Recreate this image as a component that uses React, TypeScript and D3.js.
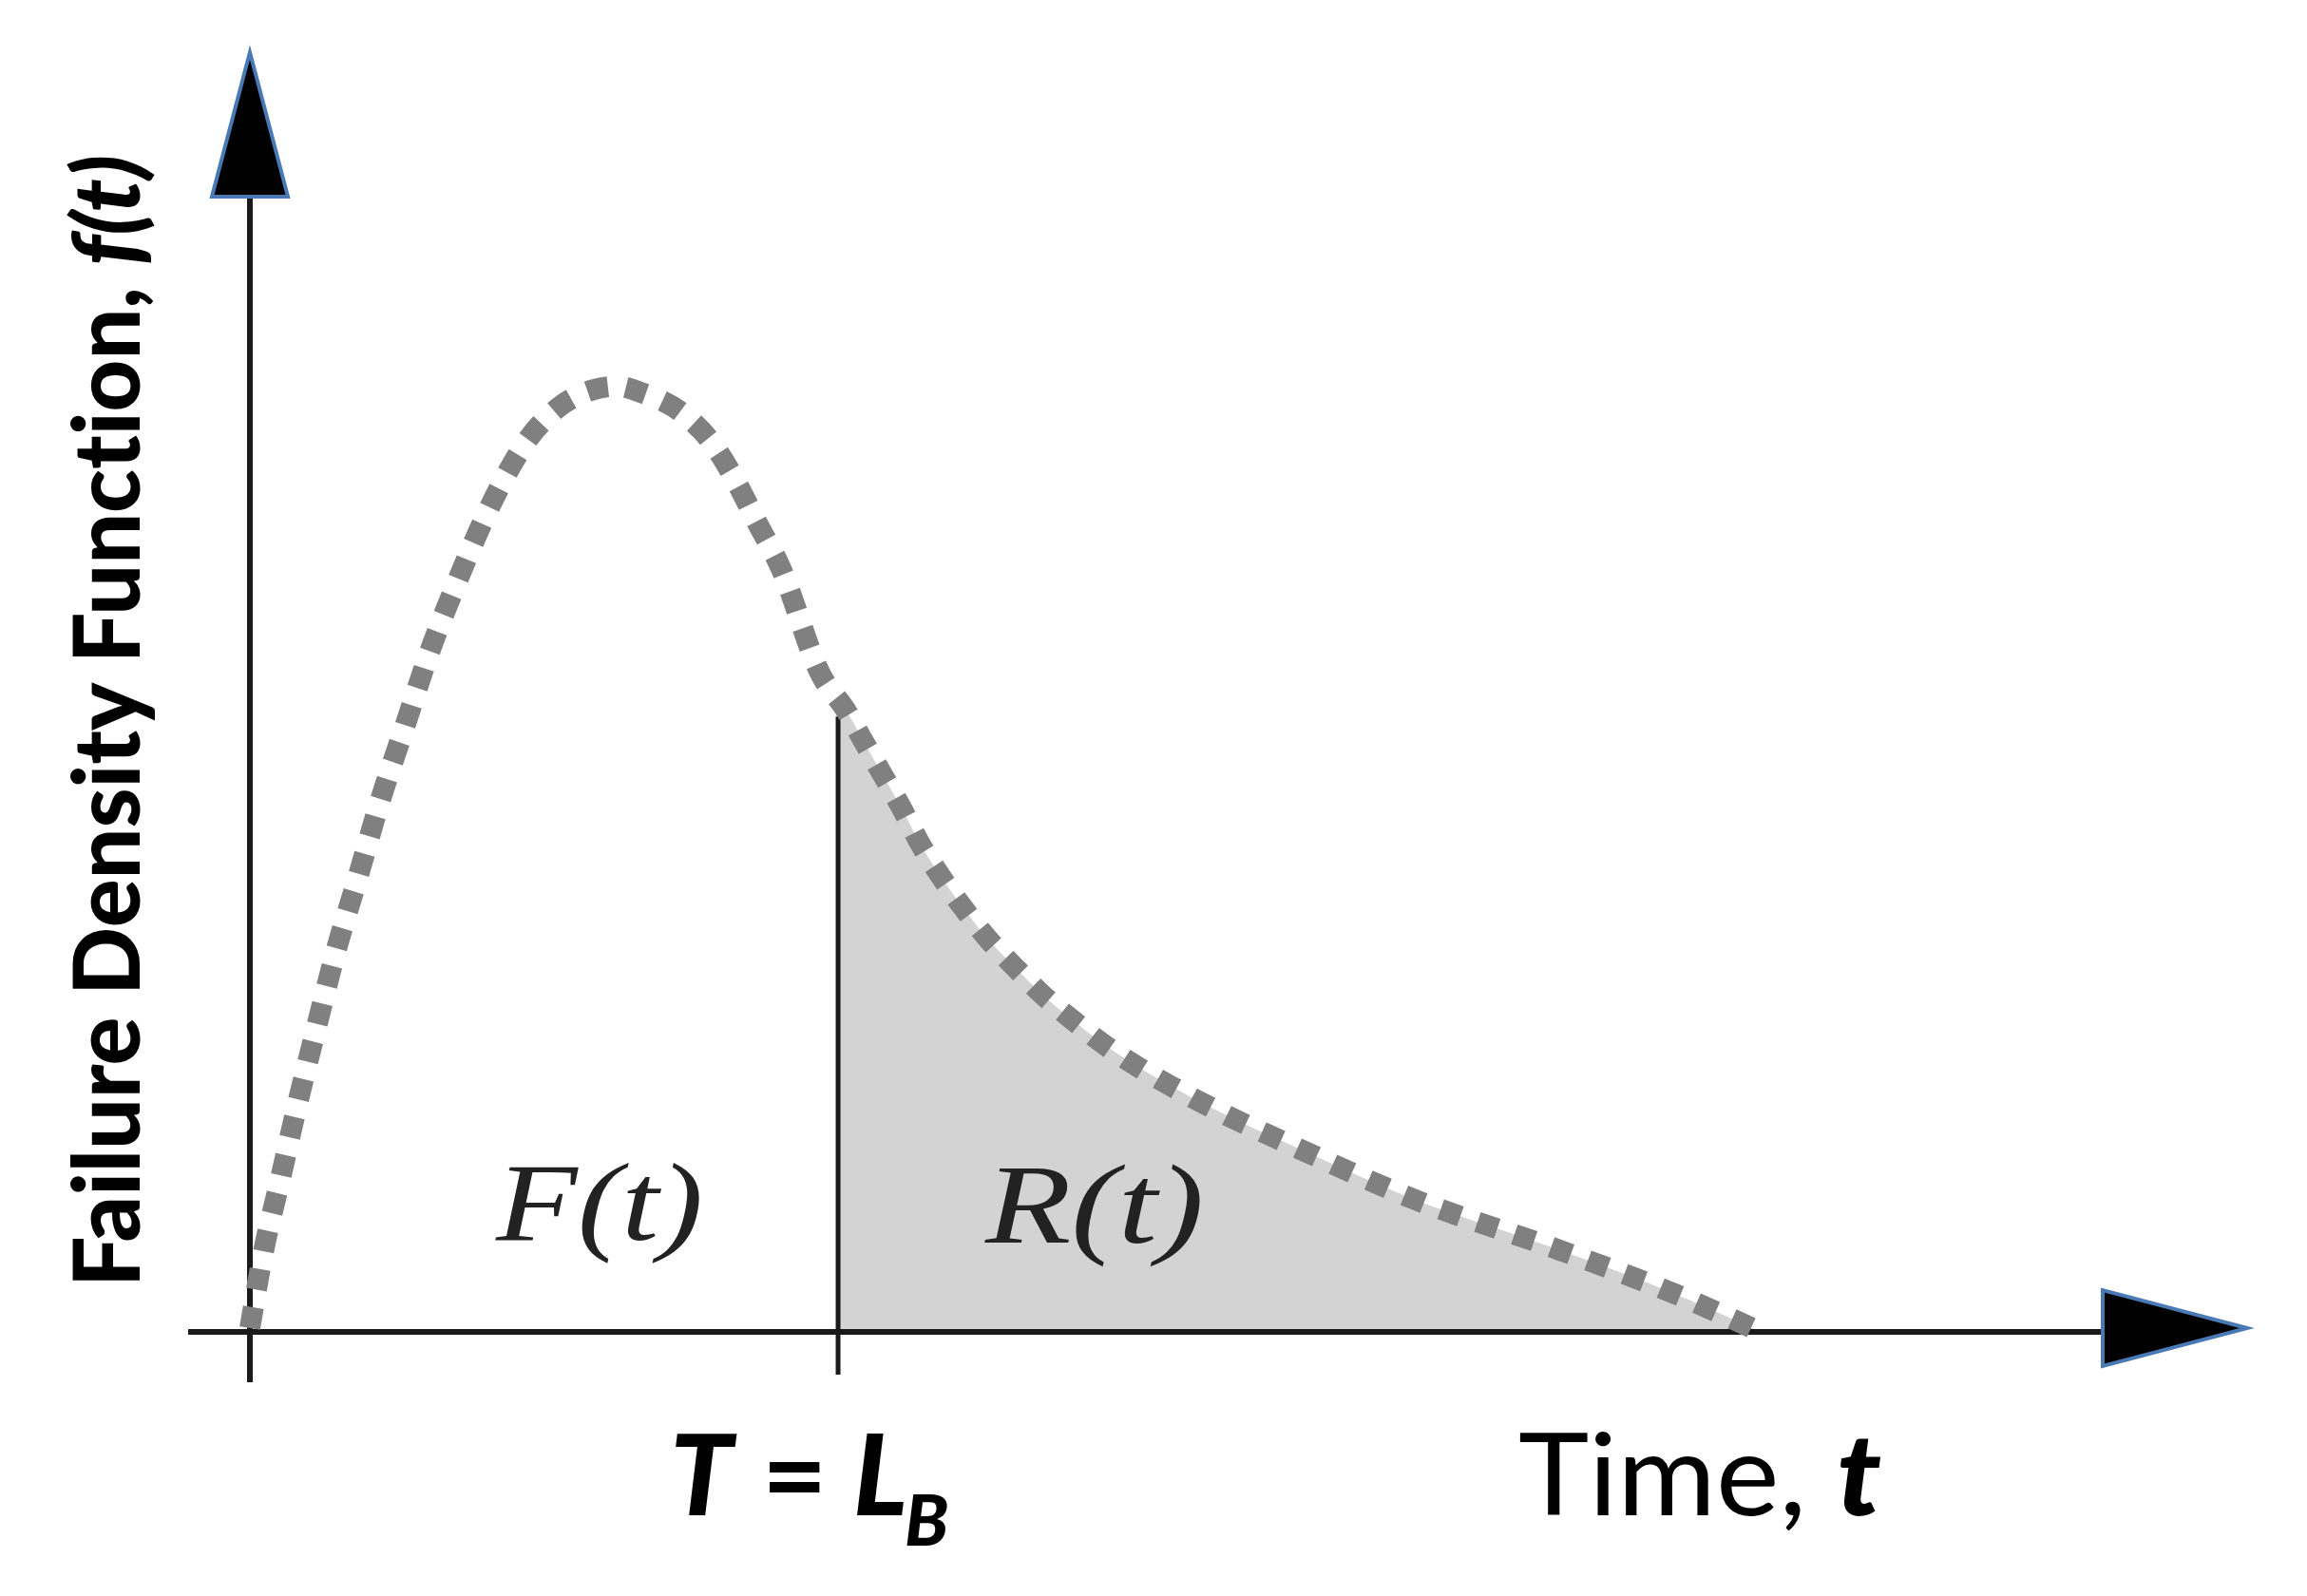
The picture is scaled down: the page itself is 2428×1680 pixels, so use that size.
import React from "react";
import * as d3 from "d3";

// Failure density curve f(t) (arbitrary units)
const timeValues = [
  0, 0.67, 1.52, 2.38, 3.33, 4.28, 5.42, 6.52, 7.71, 8.99, 10.42, 11.99, 13.99,
  15.41, 17.13, 18.41, 19.6, 21.65, 23.17, 24.36, 25.31, 26.55, 28.64, 29.83,
  30.78, 31.73, 32.68, 33.54, 34.59, 35.78, 36.96, 38.3, 39.72, 41.25, 42.91,
  44.58, 46.48, 49.33, 51.57, 58.23, 65.56, 71.46, 75.5,
];
const densityValues = [
  0.3, 6.2, 11.9, 17.8, 23.8, 29.6, 35.6, 41.5, 47.1, 53.1, 58.8, 64.4, 69.9,
  72.2, 73.6, 73.9, 73.4, 71.8, 69.4, 66.4, 63.5, 59.8, 51.2, 48.6, 46.0, 43.4,
  40.8, 38.2, 35.6, 33.0, 30.7, 28.5, 26.3, 24.3, 22.3, 20.6, 18.9, 16.6, 15.0,
  10.4, 6.4, 2.9, 0.1,
];
const lifeBoundary = 29.45; // T = L_B
const axisDomain = [0, 100];

const yTitle = "Failure Density Function, ";
const yTitleVar = "f(t)";
const xTitle = "Time, ";
const xTitleVar = "t";
const leftRegionLabel = "F(t)";
const rightRegionLabel = "R(t)";

const W = 2428;
const H = 1680;

export default function App() {
  const x = d3.scaleLinear().domain(axisDomain).range([263, 2365]);
  const y = d3.scaleLinear().domain(axisDomain).range([1402, 55]);

  const pts: [number, number][] = timeValues.map((t, i) => [t, densityValues[i]]);
  const line = d3
    .line<[number, number]>()
    .x((d) => x(d[0]))
    .y((d) => y(d[1]))
    .curve(d3.curveMonotoneX);

  const idx = d3.bisectLeft(timeValues, lifeBoundary);
  const t0 = timeValues[idx - 1];
  const t1 = timeValues[idx];
  const f0 = densityValues[idx - 1];
  const f1 = densityValues[idx];
  const fLB = f0 + ((lifeBoundary - t0) / (t1 - t0)) * (f1 - f0);
  const tail: [number, number][] = [[lifeBoundary, fLB], ...pts.slice(idx)];
  const area = d3
    .area<[number, number]>()
    .x((d) => x(d[0]))
    .y0(y(0))
    .y1((d) => y(d[1]))
    .curve(d3.curveMonotoneX);

  const ox = x(0);
  const oy = y(0);
  const yTip = y(axisDomain[1]);
  const xTip = x(axisDomain[1]);
  const arrowLen = 152;
  const arrowHalf = 40;
  const lbX = x(lifeBoundary);

  const sans = "Lato, 'Open Sans', sans-serif";
  const serif = "'Liberation Serif', 'DejaVu Serif', serif";
  const noLig = { fontVariantLigatures: "none" } as React.CSSProperties;

  return (
    <svg
      width={W}
      height={H}
      viewBox={`0 0 ${W} ${H}`}
      style={{ position: "absolute", left: 0, top: 0, background: "#fff" }}
    >
      <rect x={0} y={0} width={W} height={H} fill="#fff" />
      {/* shaded R(t) region */}
      <path d={area(tail) || ""} fill="#d3d3d3" stroke="none" />

      {/* axes */}
      <line x1={ox} x2={ox} y1={yTip + arrowLen - 2} y2={oy + 53} stroke="#1a1a1a" strokeWidth={6} />
      <line x1={ox - 65} x2={xTip - arrowLen + 2} y1={oy} y2={oy} stroke="#1a1a1a" strokeWidth={6} />
      <polygon
        points={`${ox},${yTip} ${ox - arrowHalf},${yTip + arrowLen} ${ox + arrowHalf},${yTip + arrowLen}`}
        fill="#000"
        stroke="#4a7ab5"
        strokeWidth={4}
        strokeLinejoin="miter"
      />
      <polygon
        points={`${xTip},${oy - 4} ${xTip - arrowLen},${oy - 4 - arrowHalf} ${xTip - arrowLen},${oy - 4 + arrowHalf}`}
        fill="#000"
        stroke="#4a7ab5"
        strokeWidth={4}
      />

      {/* T = L_B marker */}
      <line x1={lbX} x2={lbX} y1={y(fLB) + 18} y2={oy + 45} stroke="#1a1a1a" strokeWidth={5} />

      {/* density curve */}
      <path
        d={line(pts) || ""}
        fill="none"
        stroke="#808080"
        strokeWidth={22}
        strokeDasharray="22 19"
      />

      {/* region labels */}
      <text
        x={522}
        y={1305}
        fontFamily={serif}
        fontStyle="italic"
        fontSize={116}
        fill="#222"
        textLength={218}
        lengthAdjust="spacingAndGlyphs"
      >
        {leftRegionLabel}
      </text>
      <text
        x={1037}
        y={1308}
        fontFamily={serif}
        fontStyle="italic"
        fontSize={118}
        fill="#222"
        textLength={230}
        lengthAdjust="spacingAndGlyphs"
      >
        {rightRegionLabel}
      </text>

      {/* y axis title */}
      <text
        transform="translate(147,1355) rotate(-90)"
        fontFamily={sans}
        fontWeight="900"
        fontSize={97}
        fill="#000"
        textLength={1192}
        lengthAdjust="spacingAndGlyphs"
        style={noLig}
      >
        {yTitle}
        <tspan fontStyle="italic">{yTitleVar}</tspan>
      </text>

      {/* x axis labels */}
      <text x={lbX - 177} y={1595} fontFamily={sans} fontWeight="900" fontSize={118} fill="#000">
        <tspan fontStyle="italic">T</tspan>
        <tspan x={lbX - 80} fontWeight="bold">=</tspan>
        <tspan x={lbX + 16} fontStyle="italic">L</tspan>
        <tspan x={lbX + 70} y={1627} fontStyle="italic" fontSize={75}>B</tspan>
      </text>
      <text
        x={1598}
        y={1595}
        fontFamily={sans}
        fontSize={121}
        fill="#000"
        textLength={382}
        lengthAdjust="spacingAndGlyphs"
      >
        {xTitle}
        <tspan fontWeight="900" fontStyle="italic">{xTitleVar}</tspan>
      </text>
    </svg>
  );
}
